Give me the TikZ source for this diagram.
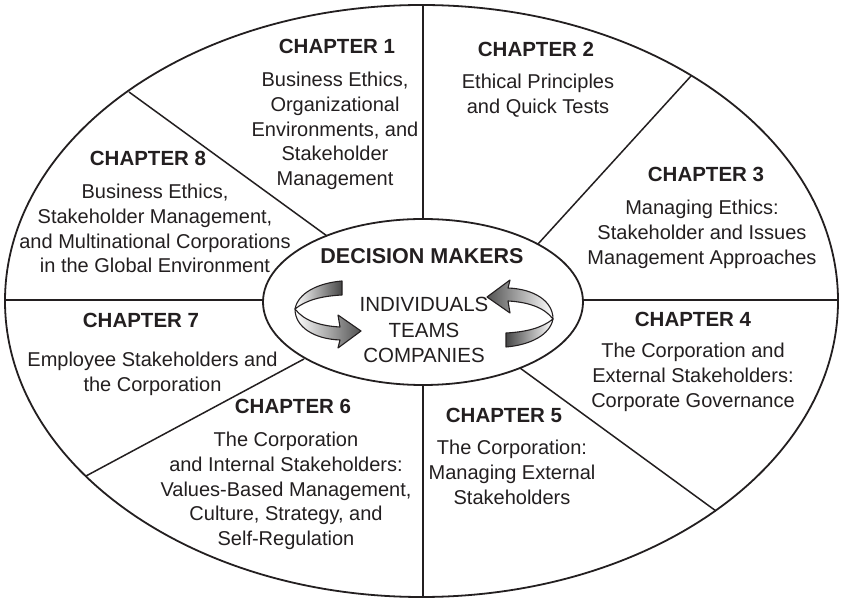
\documentclass[tikz,border=0pt]{standalone}
\usepackage{fontspec}
\setmainfont{Liberation Sans}
\definecolor{ink}{HTML}{231F20}
\tikzset{
  ttl/.style={font=\fontsize{20.5}{24.8}\selectfont\bfseries, anchor=base, inner sep=0pt, text=ink},
  bdy/.style={font=\fontsize{20}{24.8}\selectfont, anchor=base, inner sep=0pt, text=ink},
  sepline/.style={line width=1.5pt, draw=ink},
  rim/.style={line width=1.8pt, draw=ink},
  ribbon/.style={draw=ink, line width=1.1pt, line join=round},
}
\newcommand{\lines}[1]{\begin{tabular}[t]{@{}c@{}}#1\end{tabular}}
\begin{document}
\begin{tikzpicture}[x=1pt,y=-1pt]
\useasboundingbox (0,0) rectangle (841,601);
\fill[white] (0,0) rectangle (841,601);

% ellipse end points of the separators
\coordinate (oT) at (423,5);   \coordinate (iT) at (423,219);
\coordinate (oB) at (423,597); \coordinate (iB) at (423,385);
\coordinate (oL) at (5,300);   \coordinate (iL) at (263,300);
\coordinate (oR) at (838,300); \coordinate (iR) at (583,300);
\coordinate (oUL) at (129,92); \coordinate (iUL) at (327,236);
\coordinate (oUR) at (691,76); \coordinate (iUR) at (538,244);
\coordinate (oLR) at (716,511);\coordinate (iLR) at (520,368);
\coordinate (oLL) at (86,476); \coordinate (iLL) at (304,359);

\foreach \p in {T,B,L,R,UL,UR,LR,LL}{\draw[sepline] (o\p) -- (i\p);}

\draw[rim] (421.5,301) ellipse [x radius=416.5pt, y radius=296pt];
\draw[rim] (423,302) ellipse [x radius=160pt, y radius=83pt];

% left curved arrow
\shade[ribbon, left color=white, right color=gray!55!black]
  (342,281) .. controls (318,283) and (298,293) .. (295,309)
  .. controls (306,300) and (322,296) .. (342,295) -- cycle;
\shade[ribbon, left color=white, right color=gray!65!black]
  (295,309) .. controls (304,321) and (321,326) .. (340,327) -- (338,315) -- (361,331)
  -- (338,348) -- (340,340) .. controls (314,339) and (295,327) .. (295,309) -- cycle;
% right curved arrow
\shade[ribbon, left color=gray!55!black, right color=white]
  (506,347) .. controls (530,345) and (550,335) .. (553,319)
  .. controls (542,328) and (526,332) .. (506,333) -- cycle;
\shade[ribbon, left color=gray!65!black, right color=white]
  (553,319) .. controls (544,307) and (527,302) .. (508,301) -- (510,313) -- (487,297)
  -- (510,280) -- (508,288) .. controls (534,289) and (553,301) .. (553,319) -- cycle;

% centre
\node[ttl, font=\fontsize{21.5}{25.5}\selectfont\bfseries] (dm) at (422,264) {DECISION MAKERS};
\node[bdy, font=\fontsize{20.5}{25.5}\selectfont] (who) at (424,312) {\lines{INDIVIDUALS\\ TEAMS\\ COMPANIES}};

% chapters
\node[ttl] (h1) at (337,54) {CHAPTER 1};
\node[bdy] (b1) at (335,86.5) {\lines{Business Ethics,\\ Organizational\\ Environments, and\\ Stakeholder\\ Management}};

\node[ttl] (h2) at (536,56.5) {CHAPTER 2};
\node[bdy] (b2) at (538,88.5) {\lines{Ethical Principles\\ and Quick Tests}};

\node[ttl] (h3) at (706,181.5) {CHAPTER 3};
\node[bdy] (b3) at (702,214.5) {\lines{Managing Ethics:\\ Stakeholder and Issues\\ Management Approaches}};

\node[ttl] (h4) at (693,326.5) {CHAPTER 4};
\node[bdy] (b4) at (693,358) {\lines{The Corporation and\\ External Stakeholders:\\ Corporate Governance}};

\node[ttl] (h5) at (504,422.5) {CHAPTER 5};
\node[bdy] (b5) at (512,455) {\lines{The Corporation:\\ Managing External\\ Stakeholders}};

\node[ttl] (h6) at (293,413.5) {CHAPTER 6};
\node[bdy] (b6) at (286,446.5) {\lines{The Corporation\\ and Internal Stakeholders:\\ Values-Based Management,\\ Culture, Strategy, and\\ Self-Regulation}};

\node[ttl] (h7) at (141,328) {CHAPTER 7};
\node[bdy] (b7) at (152.5,367) {\lines{Employee Stakeholders and\\ the Corporation}};

\node[ttl] (h8) at (148,166) {CHAPTER 8};
\node[bdy] (b8) at (155,198.5) {\lines{Business Ethics,\\ Stakeholder Management,\\ and Multinational Corporations\\ in the Global Environment}};
\end{tikzpicture}
\end{document}
